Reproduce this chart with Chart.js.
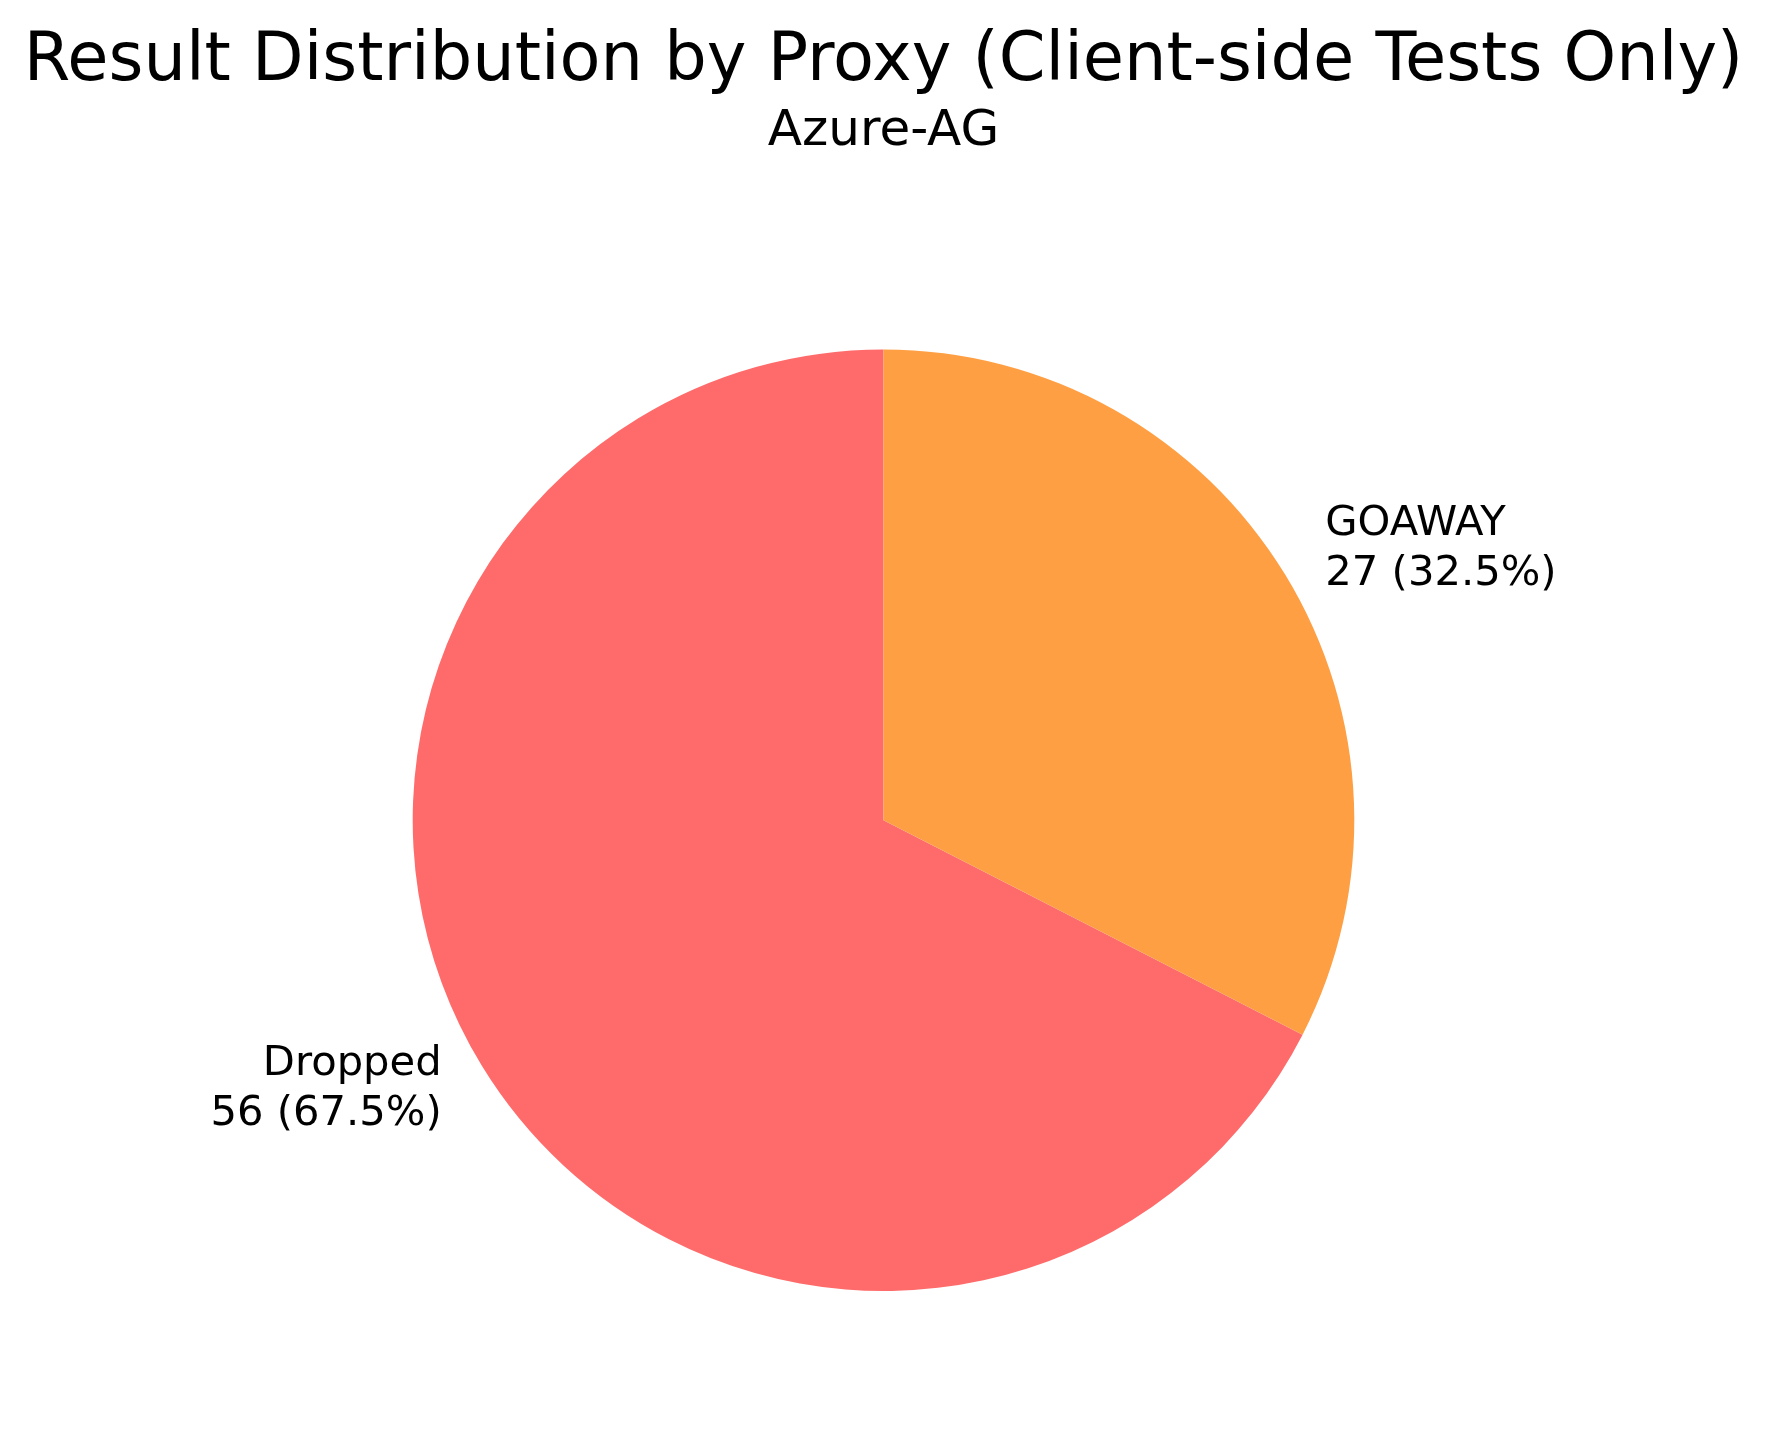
<!DOCTYPE html>
<html>
<head>
<meta charset="utf-8">
<title>Result Distribution by Proxy</title>
<script src="https://cdn.jsdelivr.net/npm/chart.js@4"></script>
<style>
  html, body { margin: 0; padding: 0; background: #ffffff; }
  canvas { display: block; }
</style>
</head>
<body>
<canvas id="proxyPie" width="1767" height="1440"></canvas>
<script>
const categories = ['Dropped', 'GOAWAY'];
const counts = [56, 27];
const sliceColors = ['#ff6b6b', '#ff9f43'];
const chartTitle = 'Result Distribution by Proxy (Client-side Tests Only)';
const proxyName = 'Azure-AG';

const total = counts.reduce((a, b) => a + b, 0);
const FONT = "'DejaVu Sans', sans-serif";

// matplotlib-style labels just outside the slices
const outerLabels = {
    id: 'outerLabels',
    afterDatasetsDraw(chart) {
        const ctx = chart.ctx;
        const meta = chart.getDatasetMeta(0);
        ctx.save();
        ctx.font = '41.7px ' + FONT;
        ctx.fillStyle = '#000000';
        ctx.textBaseline = 'alphabetic';
        meta.data.forEach((arc, i) => {
            const p = arc.getProps(['x', 'y', 'startAngle', 'endAngle', 'outerRadius'], true);
            const mid = (p.startAngle + p.endAngle) / 2;
            const r = p.outerRadius * 1.1;
            const lx = p.x + Math.cos(mid) * r;
            const ly = p.y + Math.sin(mid) * r;
            ctx.textAlign = Math.cos(mid) >= 0 ? 'left' : 'right';
            const pct = (counts[i] / total * 100).toFixed(1);
            ctx.fillText(categories[i], lx, ly - 15);
            ctx.fillText(counts[i] + ' (' + pct + '%)', lx, ly + 35);
        });
        ctx.restore();
    }
};

new Chart(document.getElementById('proxyPie'), {
    type: 'pie',
    data: {
        labels: categories,
        datasets: [{
            data: counts,
            backgroundColor: sliceColors,
            borderWidth: 0,
            hoverOffset: 0
        }]
    },
    options: {
        responsive: false,
        animation: false,
        // first slice runs counter-clockwise from the top in the original
        rotation: 360 * counts[1] / total,
        layout: { padding: { top: 0, bottom: 149, left: 0, right: 0 } },
        plugins: {
            legend: { display: false },
            tooltip: { enabled: false },
            title: {
                display: true,
                text: chartTitle,
                color: '#000000',
                font: { family: FONT, size: 67, weight: 'normal', lineHeight: 1.2 },
                padding: { top: 22, bottom: 0 }
            },
            subtitle: {
                display: true,
                text: proxyName,
                color: '#000000',
                font: { family: FONT, size: 50, weight: 'normal', lineHeight: 1.2 },
                padding: { top: 0, bottom: 187 }
            }
        }
    },
    plugins: [outerLabels]
});
</script>
</body>
</html>
